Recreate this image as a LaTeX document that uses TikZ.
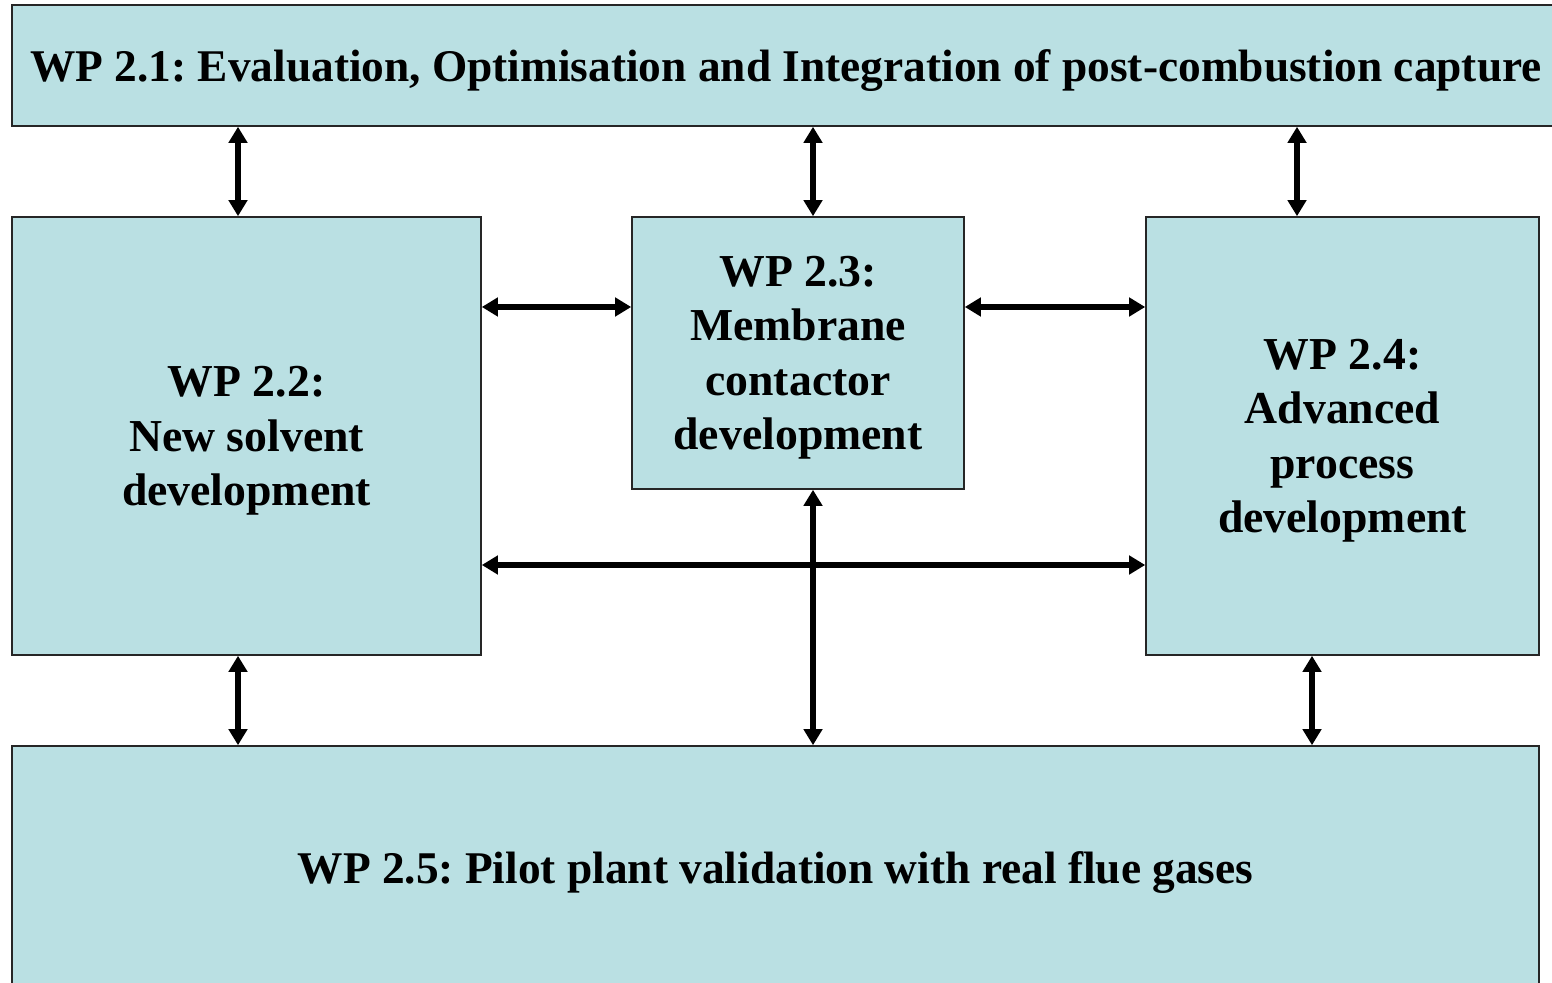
\documentclass[tikz,border=0pt]{standalone}
\usepackage{fontspec}
\setmainfont{Liberation Serif}
\usepackage{tikz}
\usetikzlibrary{arrows.meta,positioning,calc}
\definecolor{wpfill}{RGB}{186,224,227}
\frenchspacing

\begin{document}
\begin{tikzpicture}[x=0.01cm,y=-0.01cm,>=Triangle,
  wpbox/.style={draw=black!85,line width=0.45pt,fill=wpfill,inner sep=0pt,
                align=center,text depth=0pt,font=\fontsize{13}{15.5}\selectfont\bfseries},
  link/.style={<->,line width=1.45pt,>={Triangle[width=5.2pt,length=4.6pt]}}]
\useasboundingbox (0,0) rectangle (1552,983);
\node[wpbox,minimum width=1548*0.01cm,minimum height=121*0.01cm,
      font=\fontsize{12.9}{14}\selectfont\bfseries] (wp21) at (786,65.5)
  {WP 2.1: Evaluation, Optimisation and Integration of post-combustion capture};
\node[wpbox,minimum width=469*0.01cm,minimum height=438*0.01cm] (wp22) at (246.5,436)
  {WP 2.2:\\New solvent\\development};
\node[wpbox,minimum width=332*0.01cm,minimum height=272*0.01cm] (wp23) at (798,353)
  {WP 2.3:\\Membrane\\contactor\\development};
\node[wpbox,minimum width=393*0.01cm,minimum height=438*0.01cm] (wp24) at (1342.5,436)
  {WP 2.4:\\Advanced\\process\\development};
\node[wpbox,minimum width=1527*0.01cm,minimum height=244*0.01cm,
      font=\fontsize{12.9}{14}\selectfont\bfseries] (wp25) at (775.5,868)
  {WP 2.5: Pilot plant validation with real flue gases};
% links to WP 2.1
\foreach \x/\to in {238/wp22,813/wp23,1297/wp24}
  \draw[link] (wp21.south -| \x,0) -- (\to.north -| \x,0);
% links between the middle packages
\draw[link] (wp22.east |- 0,307) -- (wp23.west |- 0,307);
\draw[link] (wp23.east |- 0,307) -- (wp24.west |- 0,307);
\draw[link] (wp22.east |- 0,565) -- (wp24.west |- 0,565);
% links to WP 2.5
\foreach \x/\from in {238/wp22,813/wp23,1312/wp24}
  \draw[link] (\from.south -| \x,0) -- (wp25.north -| \x,0);
\end{tikzpicture}
\end{document}
